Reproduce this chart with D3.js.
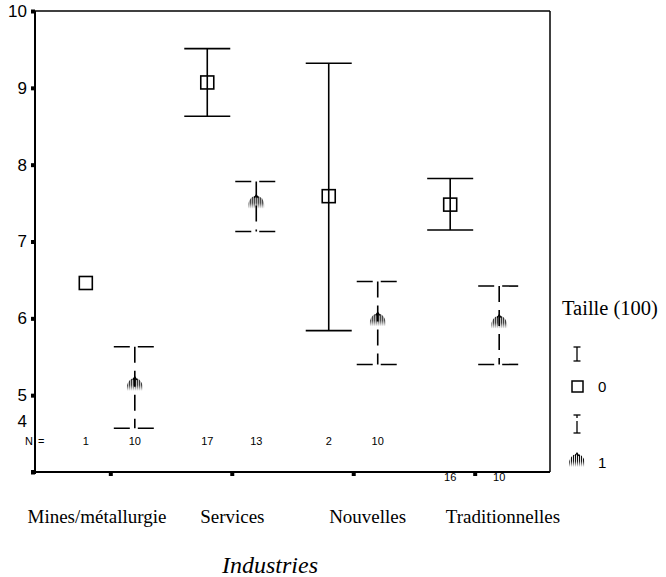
<!DOCTYPE html>
<html>
<head>
<meta charset="utf-8">
<script src="https://cdn.jsdelivr.net/npm/d3@7"></script>
<style>
  html, body { margin: 0; padding: 0; background: #fff; }
  svg { display: block; }
</style>
</head>
<body>
<svg id="chart" width="666" height="577"></svg>
<script>
// Industry categories and the two "Taille (100)" groups
const categories = ["Mines/métallurgie", "Services", "Nouvelles", "Traditionnelles"];
const groups = ["0", "1"];

// Group 0 (square marker, solid bars)
const meanTaille0 = [6.46, 9.07, 7.59, 7.48];
const lowTaille0  = [null, 8.63, 5.84, 7.15];
const highTaille0 = [null, 9.51, 9.32, 7.82];
const nTaille0    = [1, 17, 2, 16];

// Group 1 (shell marker, dashed bars)
const meanTaille1 = [5.12, 7.49, 5.96, 5.93];
const lowTaille1  = [4.57, 7.13, 5.40, 5.40];
const highTaille1 = [5.63, 7.78, 6.48, 6.42];
const nTaille1    = [10, 13, 10, 10];

const yTicks = [4, 5, 6, 7, 8, 9, 10];

const SANS = "'Liberation Sans', Arial, sans-serif";
const SERIF = "'Liberation Serif', 'Times New Roman', serif";

const svg = d3.select("#chart");
const plot = { left: 35, right: 550, top: 11, bottom: 472 };

const x = d3.scalePoint().domain(categories).range([plot.left, plot.right]).padding(0.62);
const off = d3.scalePoint().domain(groups).range([-24.5, 24.5]);
const y = d3.scaleLinear().domain([4, 10]).range([plot.bottom, plot.top]);
// category names sit on their own, slightly wider spacing
const xLabel = d3.scalePoint().domain(categories).range([97, 503]);

// Shell marker fill: vertical stripes fading out toward the bottom
const defs = svg.append("defs");
const pat = defs.append("pattern").attr("id", "stripes")
  .attr("patternUnits", "userSpaceOnUse").attr("width", 2).attr("height", 4);
pat.append("rect").attr("width", 1.1).attr("height", 4).attr("fill", "#000");
const grad = defs.append("linearGradient").attr("id", "fade")
  .attr("x1", 0).attr("y1", 0).attr("x2", 0).attr("y2", 1);
grad.append("stop").attr("offset", "0%").attr("stop-color", "#fff").attr("stop-opacity", 1);
grad.append("stop").attr("offset", "55%").attr("stop-color", "#fff").attr("stop-opacity", 0.9);
grad.append("stop").attr("offset", "100%").attr("stop-color", "#fff").attr("stop-opacity", 0);
const mask = defs.append("mask").attr("id", "shellMask").attr("maskContentUnits", "objectBoundingBox");
mask.append("rect").attr("width", 1).attr("height", 1).attr("fill", "url(#fade)");

function shell(g, cx, cy) {
  const s = g.append("g").attr("transform", `translate(${cx},${cy})`);
  s.append("path")
    .attr("d", "M-8,5 C-9,-4 -4,-8 0,-8 C4,-8 9,-4 8,5 Z")
    .attr("fill", "url(#stripes)")
    .attr("mask", "url(#shellMask)");
  s.append("path")
    .attr("d", "M-2,-6 L0,-9 L2,-6")
    .attr("fill", "none").attr("stroke", "#000").attr("stroke-width", 1.2);
}

// Axes
const yAxis = svg.append("g").attr("transform", `translate(${plot.left},0)`)
  .call(d3.axisLeft(y).tickValues(yTicks).tickSize(4).tickPadding(4).tickFormat(d3.format("d")));
yAxis.select(".domain").remove();
yAxis.selectAll(".tick line").attr("stroke", "#000").attr("stroke-width", 4);
yAxis.selectAll(".tick text")
  .attr("font-family", SANS).attr("font-size", 17).attr("fill", "#000")
  .attr("dy", d => d === 4 ? "-2.7em" : "0.32em");

const xAxis = svg.append("g").attr("transform", `translate(0,${plot.bottom})`)
  .call(d3.axisBottom(x).tickSize(4).tickFormat(""));
xAxis.select(".domain").remove();
xAxis.selectAll(".tick line").attr("stroke", "#000").attr("stroke-width", 4);

// Frame
svg.append("line").attr("x1", plot.left).attr("x2", plot.left).attr("y1", plot.top).attr("y2", plot.bottom + 2)
  .attr("stroke", "#000").attr("stroke-width", 2);
svg.append("line").attr("x1", plot.left - 2).attr("x2", plot.right).attr("y1", plot.bottom).attr("y2", plot.bottom)
  .attr("stroke", "#000").attr("stroke-width", 2);
svg.append("line").attr("x1", plot.left).attr("x2", plot.right).attr("y1", plot.top).attr("y2", plot.top)
  .attr("stroke", "#000").attr("stroke-width", 1.5);
svg.append("line").attr("x1", plot.right).attr("x2", plot.right).attr("y1", plot.top).attr("y2", plot.bottom)
  .attr("stroke", "#000").attr("stroke-width", 1.5);
svg.append("rect").attr("x", plot.left - 4).attr("y", plot.bottom - 2).attr("width", 4).attr("height", 4).attr("fill", "#000");

// Error bars and markers
const marks = svg.append("g");
const capHalf = 23;

categories.forEach((c, i) => {
  // group 0: solid
  const x0 = x(c) + off("0");
  if (lowTaille0[i] != null) {
    marks.append("line").attr("x1", x0).attr("x2", x0)
      .attr("y1", y(highTaille0[i])).attr("y2", y(lowTaille0[i]))
      .attr("stroke", "#000").attr("stroke-width", 1.6);
    [highTaille0[i], lowTaille0[i]].forEach(v => {
      marks.append("line").attr("x1", x0 - capHalf).attr("x2", x0 + capHalf)
        .attr("y1", y(v)).attr("y2", y(v)).attr("stroke", "#000").attr("stroke-width", 1.6);
    });
  }
  marks.append("rect").attr("x", x0 - 6.5).attr("y", y(meanTaille0[i]) - 6.5)
    .attr("width", 13).attr("height", 13)
    .attr("fill", "none").attr("stroke", "#000").attr("stroke-width", 1.6);

  // group 1: dashed
  const x1 = x(c) + off("1");
  shell(marks, x1, y(meanTaille1[i]));
  marks.append("line").attr("x1", x1).attr("x2", x1)
    .attr("y1", y(highTaille1[i])).attr("y2", y(lowTaille1[i]))
    .attr("stroke", "#000").attr("stroke-width", 1.6).attr("stroke-dasharray", "16,8");
  [highTaille1[i], lowTaille1[i]].forEach(v => {
    marks.append("line").attr("x1", x1 - 21).attr("x2", x1 + 21)
      .attr("y1", y(v)).attr("y2", y(v)).attr("stroke", "#000").attr("stroke-width", 1.6)
      .attr("stroke-dasharray", "16,8");
  });
});

// Counts row
const nRow = svg.append("g").attr("font-family", SANS).attr("font-size", 11).attr("fill", "#000")
  .attr("text-anchor", "middle");
svg.append("text").attr("x", 33).attr("y", 445).attr("text-anchor", "end")
  .attr("font-family", SANS).attr("font-size", 11).text("N");
svg.append("text").attr("x", 38).attr("y", 445)
  .attr("font-family", SANS).attr("font-size", 11).text("=");
categories.forEach((c, i) => {
  const ny = i === 3 ? 481 : 445;
  nRow.append("text").attr("x", x(c) + off("0")).attr("y", ny).text(nTaille0[i]);
  nRow.append("text").attr("x", x(c) + off("1")).attr("y", ny).text(nTaille1[i]);
});

// Category labels and axis title
svg.append("g").selectAll("text").data(categories).join("text")
  .attr("x", d => xLabel(d)).attr("y", 523)
  .attr("text-anchor", "middle")
  .attr("font-family", SERIF).attr("font-size", 19).attr("fill", "#000")
  .text(d => d);
svg.append("text").attr("x", 270).attr("y", 573).attr("text-anchor", "middle")
  .attr("font-family", SERIF).attr("font-style", "italic").attr("font-size", 24)
  .text("Industries");

// Legend
const lg = svg.append("g").attr("transform", "translate(556,0)");
lg.append("text").attr("x", 6).attr("y", 315)
  .attr("font-family", SERIF).attr("font-size", 20.5).text("Taille (100)");
// group 0 entry
lg.append("line").attr("x1", 21).attr("x2", 21).attr("y1", 347).attr("y2", 361).attr("stroke", "#000").attr("stroke-width", 1.3);
lg.append("line").attr("x1", 17.5).attr("x2", 24.5).attr("y1", 347).attr("y2", 347).attr("stroke", "#000").attr("stroke-width", 1.3);
lg.append("line").attr("x1", 17.5).attr("x2", 24.5).attr("y1", 361).attr("y2", 361).attr("stroke", "#000").attr("stroke-width", 1.3);
lg.append("rect").attr("x", 16).attr("y", 381).attr("width", 11).attr("height", 11)
  .attr("fill", "none").attr("stroke", "#000").attr("stroke-width", 1.5);
lg.append("text").attr("x", 42).attr("y", 392).attr("font-family", SANS).attr("font-size", 15).text(groups[0]);
// group 1 entry
lg.append("line").attr("x1", 21).attr("x2", 21).attr("y1", 415).attr("y2", 433)
  .attr("stroke", "#000").attr("stroke-width", 1.3).attr("stroke-dasharray", "3,3,12");
lg.append("line").attr("x1", 17.5).attr("x2", 24.5).attr("y1", 415).attr("y2", 415).attr("stroke", "#000").attr("stroke-width", 1.3);
lg.append("line").attr("x1", 17.5).attr("x2", 24.5).attr("y1", 433).attr("y2", 433).attr("stroke", "#000").attr("stroke-width", 1.3);
shell(lg, 21, 462);
lg.append("text").attr("x", 42).attr("y", 468).attr("font-family", SANS).attr("font-size", 15).text(groups[1]);
</script>
</body>
</html>
